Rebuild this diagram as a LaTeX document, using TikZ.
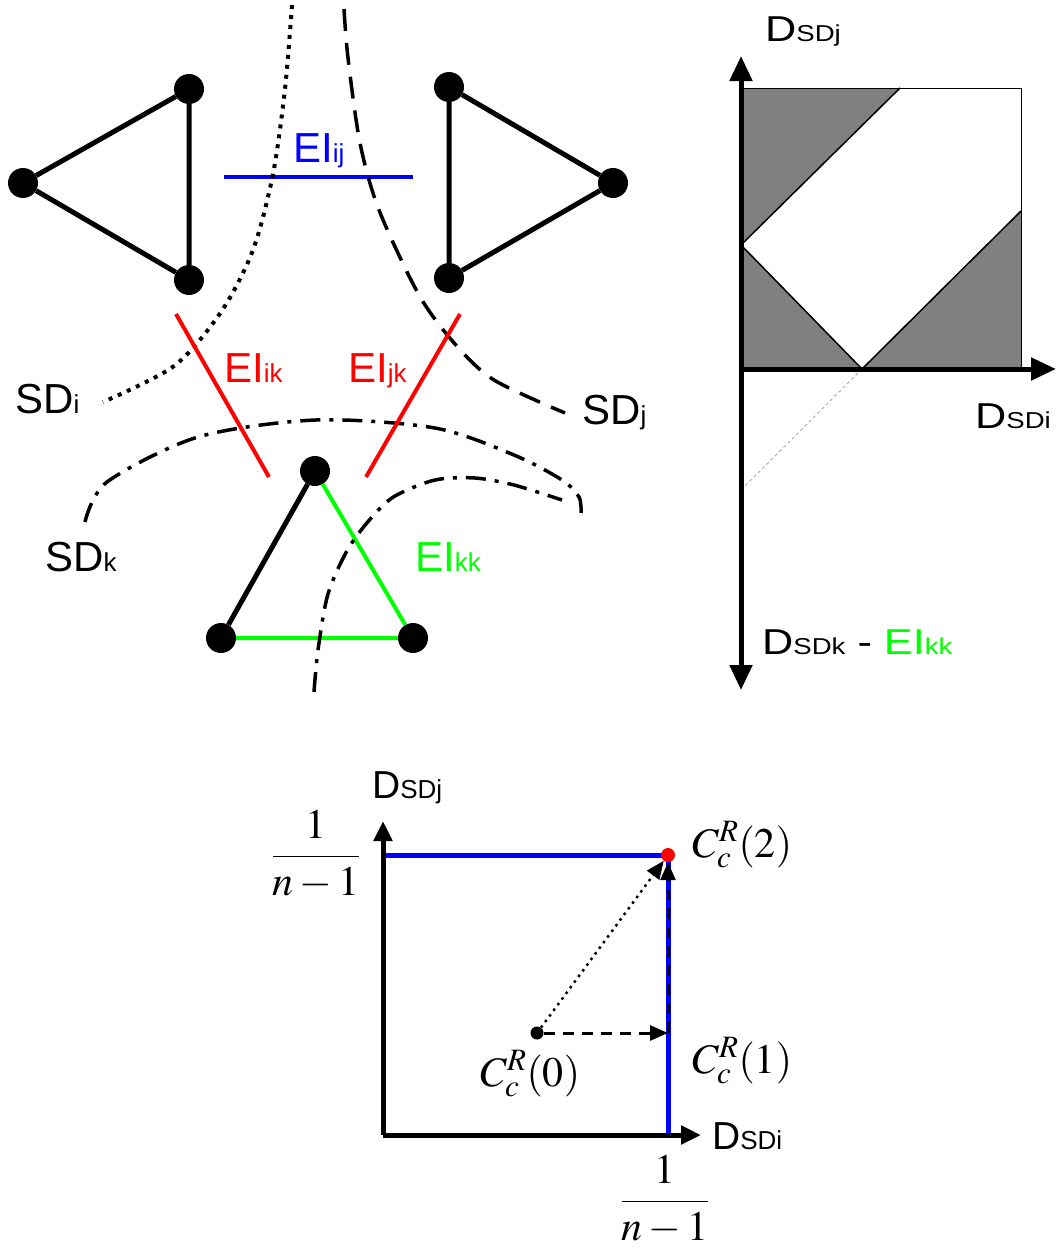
\documentclass[tikz,border=0pt]{standalone}
\usepackage{mathptmx}
\usepackage[no-math]{fontspec}
\setmainfont{Liberation Sans}
\newfontfamily\widesf[FakeStretch=1.2]{Liberation Sans}
\usetikzlibrary{arrows.meta}

% label sizes (picture is in px = pt)
\newcommand{\lblsize}{\fontsize{42}{46}\selectfont}
\newcommand{\subsize}{\fontsize{26}{28}\selectfont}
\newcommand{\axsize}{\fontsize{36}{40}\selectfont}
\newcommand{\axsubsize}{\fontsize{23}{26}\selectfont}
\newcommand{\mathsize}{\fontsize{42}{46}\selectfont}

\begin{document}
\begin{tikzpicture}[x=1pt, y=-1pt,
    dot/.style={circle, fill=black, inner sep=0pt, minimum size=30pt},
    edge/.style={line width=5pt},
    cut/.style={line width=4pt},
    lbl/.style={inner sep=0pt, anchor=base west},
    sdi line/.style={line width=4pt, dash pattern=on 4pt off 6pt},
    sdj line/.style={line width=3.5pt, dash pattern=on 22pt off 12pt},
    sdk line/.style={line width=3.5pt, dash pattern=on 20pt off 9pt on 4pt off 9pt},
    axis/.style={line width=5pt},
    bigtip/.style={-{Triangle[length=25pt,width=22pt]}},
    smalltip/.style={-{Triangle[length=20pt,width=18pt]}}
]
\useasboundingbox (0,0) rectangle (1060,1255);

%%% subdomains and their graphs
\node[dot] (i1) at (189,89) {};
\node[dot] (i2) at (23,183) {};
\node[dot] (i3) at (189,280) {};
\draw[edge] (i1) -- (i2) -- (i3) -- (i1);

\node[dot] (j1) at (449,87) {};
\node[dot] (j2) at (613,183) {};
\node[dot] (j3) at (449,278) {};
\draw[edge] (j1) -- (j2) -- (j3) -- (j1);

\node[dot] (k1) at (315,471) {};
\node[dot] (k2) at (221,638) {};
\node[dot] (k3) at (413,638) {};
\draw[edge] (k1) -- (k2);
\draw[cut, green] (k2) -- (k3) -- (k1);

% interface between i and j
\draw[cut, blue] (224,177) -- (413,177);

% subdomain borders
\draw[sdi line] plot[smooth] coordinates {(292,5) (285,89) (273,174) (253,250) (221,312) (174,366) (103,402)};
\draw[sdj line] plot[smooth] coordinates {(344,9) (348,58) (360,143) (379,210) (419,295) (455,344) (494,380) (565,413)};
\draw[sdk line] plot[smooth] coordinates {(85,522) (107,482) (198,437) (316,420) (435,428) (514,455) (562,480) (579,497) (581,513)};
\draw[sdk line] plot[smooth] coordinates {(314,692) (318,650) (328,594) (348,549) (372,517) (395,496) (435,480) (475,478) (514,485) (562,500)};

% interfaces towards k
\draw[cut, red] (176,314) -- (269,477);
\draw[cut, red] (460,314) -- (366,477);

\node[lbl] (sdi) at (15,413) {\lblsize SD{\subsize i}};
\node[lbl] (sdj) at (582,424) {\lblsize SD{\subsize j}};
\node[lbl] (sdk) at (45,571) {\lblsize SD{\subsize k}};
\node[lbl, blue] (eiij) at (293,162) {\lblsize EI{\subsize ij}};
\node[lbl, red] (eiik) at (224,382) {\lblsize EI{\subsize ik}};
\node[lbl, red] (eijk) at (348,382) {\lblsize EI{\subsize jk}};
\node[lbl, green] (eikk) at (415,571) {\lblsize EI{\subsize kk}};

%%% distance space
\fill[black!50] (741,88) -- (900,88) -- (741,245) -- cycle;
\fill[black!50] (741,245) -- (862,369) -- (741,369) -- cycle;
\fill[black!50] (862,369) -- (1021,369) -- (1021,211) -- cycle;
\draw[line width=1pt] (741,88) rectangle (1021,369);
\draw[line width=1.5pt] (900,88) -- (741,245) -- (862,369) -- (1021,211);
\draw[black!35, line width=1pt, dashed] (862,369) -- (741,490);

\coordinate (vtop) at (741,56);
\coordinate (vbot) at (741,690);
\coordinate (horig) at (741,369);
\coordinate (hend) at (1056,369);
\draw[axis, {Triangle[length=25pt,width=22pt]}-{Triangle[length=25pt,width=22pt]}] (vtop) -- (vbot);
\draw[axis, bigtip] (horig) -- (hend);

\node[lbl] (dj) at (765,42) {\widesf\axsize D{\axsubsize SDj}};
\node[lbl] (di) at (975,428) {\widesf\axsize D{\axsubsize SDi}};
\node[lbl] (dk) at (762,654) {\widesf\axsize D{\axsubsize SDk} - {\color{green}EI{\axsubsize kk}}};

%%% reduced domain
\coordinate (o) at (383,1135);
\coordinate (xend) at (701,1135);
\coordinate (yend) at (383,821);
\coordinate (ytop) at (383,855);
\coordinate (xr) at (668,1135);
\coordinate (c1) at (668,1033);

\draw[line width=5pt, blue] (ytop) -- (668,855) -- (xr);
\draw[axis, smalltip] (o) -- (xend);
\draw[axis, smalltip] (o) -- (yend);

\node[circle, fill=red, inner sep=0pt, minimum size=14pt] (c2) at (668,855) {};
\node[circle, fill=black, inner sep=0pt, minimum size=13pt] (c0) at (537,1033) {};

\draw[line width=3pt, dash pattern=on 11pt off 8pt, -{Triangle[length=18pt,width=15pt]}] (c0) -- (c1);
\draw[line width=3pt, dash pattern=on 11pt off 8pt, -{Triangle[length=18pt,width=15pt]}] (c1) -- (c2);
\draw[line width=2.5pt, dash pattern=on 2.5pt off 4.5pt, -{Triangle[length=18pt,width=15pt]}] (c0) -- (c2);

\node[lbl] (dj2) at (372,798) {\fontsize{39}{42}\selectfont D{\subsize SDj}};
\node[lbl] (di2) at (712,1149) {\fontsize{39}{42}\selectfont D{\subsize SDi}};
\node[inner sep=0pt, anchor=base] (fy) at (316,867) {\mathsize$\displaystyle\frac{1}{n-1}$};
\node[inner sep=0pt, anchor=base] (fx) at (665,1212) {\mathsize$\displaystyle\frac{1}{n-1}$};
\node[lbl] (lc2) at (692,857) {\mathsize$C_c^R(2)$};
\node[lbl] (lc1) at (692,1073) {\mathsize$C_c^R(1)$};
\node[lbl] (lc0) at (480,1086) {\mathsize$C_c^R(0)$};
\end{tikzpicture}
\end{document}
